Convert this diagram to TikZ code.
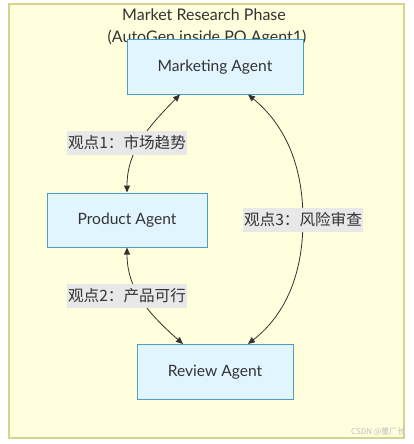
\documentclass[tikz,border=0pt]{standalone}
\usepackage{fontspec}
\setmainfont{Lato}
\newfontfamily\cjk{Noto Sans CJK SC}
\usetikzlibrary{arrows.meta}
\definecolor{clusterfill}{HTML}{FFFFDE}
\definecolor{clusterline}{HTML}{D4D48E}
\definecolor{agentfill}{HTML}{E1F5FE}
\definecolor{agentline}{HTML}{4E9DC2}
\definecolor{textc}{HTML}{333333}
\definecolor{linec}{HTML}{333333}
\definecolor{lblbg}{HTML}{E8E8E8}
\begin{document}
\begin{tikzpicture}[x=1pt,y=-1pt,
  agent/.style={draw=agentline, fill=agentfill, line width=1pt, minimum height=54pt, font=\fontsize{15.6}{18}\selectfont, text=textc, inner sep=0pt},
  lbl/.style={fill=lblbg, font=\cjk\fontsize{15.6}{18}\selectfont, text=textc, inner sep=1.5pt, minimum height=24pt},
  ttl/.style={font=\fontsize{16}{18}\selectfont, text=textc},
  link/.style={draw=linec, line width=0.8pt, {Triangle[length=7pt,width=6pt]}-{Triangle[length=7pt,width=6pt]}}]
\useasboundingbox (0,0) rectangle (413,444);
\fill[white] (0,0) rectangle (413,444);
\draw[draw=clusterline, fill=clusterfill, line width=2.5pt] (9,4) rectangle (404,438);
\node[ttl] (t1) at (204,15) {Market Research Phase};
\node[ttl] (t2) at (207,38) {(AutoGen inside PO Agent1)};
\node[agent, minimum width=176pt] (mkt) at (215,67) {Marketing Agent};
\node[agent, minimum width=160pt] (prod) at (127,220) {Product Agent};
\node[agent, minimum width=156pt, minimum height=55pt] (rev) at (215,372) {Review Agent};
\draw[link] ([xshift=-35pt]mkt.south) .. controls (150,125) and (127,150) .. (prod.north);
\draw[link] (prod.south) .. controls (127,290) and (150,315) .. ([xshift=-32pt]rev.north);
\draw[link] ([xshift=33pt]mkt.south) .. controls (285,125) and (303,165) .. (303,220) .. controls (303,275) and (285,315) .. ([xshift=33pt]rev.north);
\node[lbl] (l1) at (127,143) {观点1：市场趋势};
\node[lbl] (l2) at (127,296) {观点2：产品可行};
\node[lbl] (l3) at (303,220) {观点3：风险审查};
\node[anchor=east, font=\cjk\fontsize{8}{9}\selectfont, text=black!25] (wm) at (409,432) {CSDN @董厂长};
\end{tikzpicture}
\end{document}
